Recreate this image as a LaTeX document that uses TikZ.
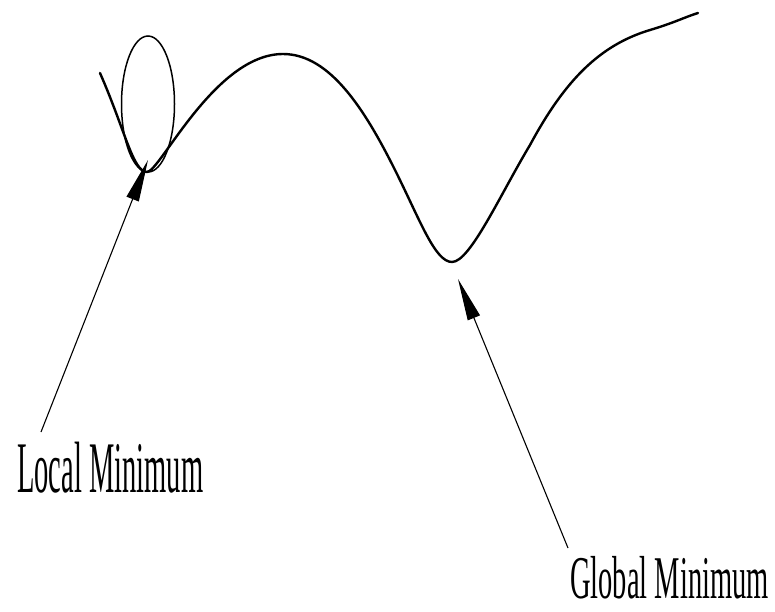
\documentclass[tikz,border=0pt]{standalone}
\usepackage{fontspec}
\setmainfont{Liberation Serif}
\usetikzlibrary{arrows.meta}
\begin{document}
\begin{tikzpicture}[x=1pt,y=-1pt,
  curve/.style={line width=2.4pt,line cap=round,line join=round},
  loop/.style={line width=1.5pt},
  pointer/.style={line width=1.1pt,-{Triangle[length=42pt,width=13pt]}},
  label/.style={inner sep=0pt,anchor=base west,font=\fontsize{28.5}{30}\selectfont}]
\useasboundingbox (0,0) rectangle (775,611);
% landscape curve
\draw[curve] (100,73) .. controls (125,130) and (133,172) .. (147,172)
  .. controls (160,172) and (215,54) .. (283,54)
  .. controls (330,54) and (365,110) .. (395,170)
  .. controls (420,220) and (435,262) .. (452,262)
  .. controls (470,262) and (500,195) .. (530,145)
  .. controls (565,80) and (600,45) .. (650,30)
  .. controls (675,22.5) and (685,17) .. (698,13);
% loop at local minimum
\draw[loop] (148,104) ellipse [x radius=26.5, y radius=68];
% labels
\node[label] (llab) at (17,492) {\scalebox{1}[2.55]{Local Minimum}};
\node[label] (glab) at (570,598) {\scalebox{1}[2.13]{Global Minimum}};
\coordinate (lmin) at (148,160);
\coordinate (gmin) at (458,279);
\coordinate (ltail) at (41,432);
\coordinate (gtail) at (568,548);
\draw[pointer] (ltail) -- (lmin);
\draw[pointer] (gtail) -- (gmin);
\end{tikzpicture}
\end{document}
